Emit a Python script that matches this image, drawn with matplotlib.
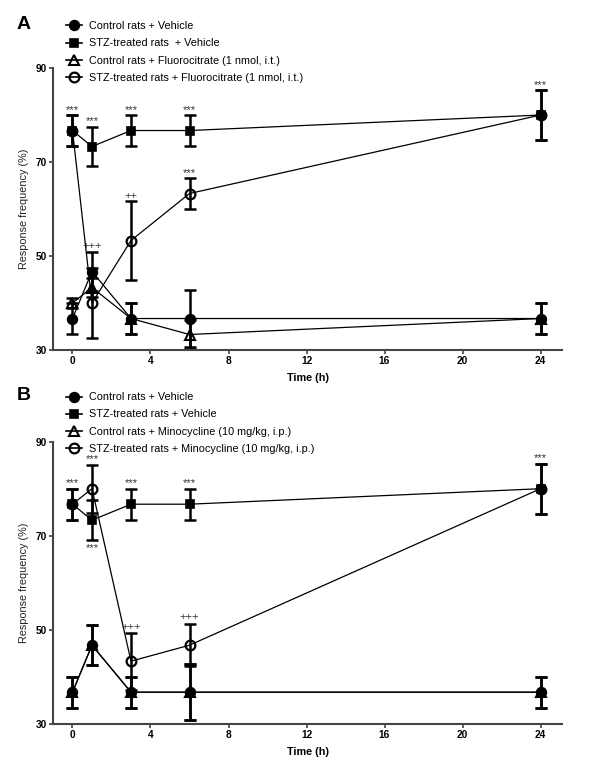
import matplotlib
matplotlib.use("Agg")
import matplotlib.pyplot as plt
from matplotlib.lines import Line2D

plt.rcParams['font.family'] = ['Liberation Sans', 'DejaVu Sans']

# tiempos (h)
tiempo = [0, 1, 3, 6, 24]

# Panel A - Fluorocitrate
a_ctrl_veh = [36.7, 46.7, 36.7, 36.7, 36.7]
a_ctrl_veh_err = [3.3, 4.2, 3.3, 6.0, 3.3]
a_stz_veh = [76.7, 73.3, 76.7, 76.7, 80.0]
a_stz_veh_err = [3.3, 4.2, 3.3, 3.3, 5.3]
a_ctrl_drug = [40.0, 43.3, 36.7, 33.3, 36.7]
a_ctrl_drug_err = [1.0, 2.0, 3.3, 3.0, 3.3]
a_stz_drug = [76.7, 40.0, 53.3, 63.3, 80.0]
a_stz_drug_err = [3.3, 7.4, 8.4, 3.3, 5.3]
a_labels = ['Control rats + Vehicle', 'STZ-treated rats  + Vehicle',
            'Control rats + Fluorocitrate (1 nmol, i.t.)',
            'STZ-treated rats + Fluorocitrate (1 nmol, i.t.)']
# (x, y, texto, arriba/abajo)
a_marcas = [(0, 80.0, '***', 'up'), (1, 77.5, '***', 'up'), (3, 80.0, '***', 'up'),
            (6, 80.0, '***', 'up'), (24, 85.3, '***', 'up'), (6, 66.6, '***', 'up'),
            (3, 61.7, '++', 'up'), (1, 50.9, '+++', 'up')]

# Panel B - Minocycline
b_ctrl_veh = [36.7, 46.7, 36.7, 36.7, 36.7]
b_ctrl_veh_err = [3.3, 4.2, 3.3, 6.0, 3.3]
b_stz_veh = [76.7, 73.3, 76.7, 76.7, 80.0]
b_stz_veh_err = [3.3, 4.2, 3.3, 3.3, 5.3]
b_ctrl_drug = [36.7, 46.7, 36.7, 36.7, 36.7]
b_ctrl_drug_err = [3.3, 4.2, 3.3, 6.0, 3.3]
b_stz_drug = [76.7, 80.0, 43.3, 46.7, 80.0]
b_stz_drug_err = [3.3, 5.1, 6.1, 4.5, 5.3]
b_labels = ['Control rats + Vehicle', 'STZ-treated rats + Vehicle',
            'Control rats + Minocycline (10 mg/kg, i.p.)',
            'STZ-treated rats + Minocycline (10 mg/kg, i.p.)']
b_marcas = [(0, 80.0, '***', 'up'), (1, 85.1, '***', 'up'), (1, 69.1, '***', 'down'),
            (3, 80.0, '***', 'up'), (6, 80.0, '***', 'up'), (24, 85.3, '***', 'up'),
            (3, 49.4, '+++', 'up'), (6, 51.6, '+++', 'up')]

estilos = [dict(marker='o', ms=7.0, mfc='black', mec='black', mew=1.2),
           dict(marker='s', ms=6.2, mfc='black', mec='black', mew=1.2),
           dict(marker='^', ms=6.8, mfc='none', mec='black', mew=1.5),
           dict(marker='o', ms=7.0, mfc='none', mec='black', mew=1.6)]

fig = plt.figure(figsize=(6, 7.73), dpi=100)
ax_a = fig.add_axes([0.0883, 0.5472, 0.8484, 0.3648])
ax_b = fig.add_axes([0.0883, 0.0638, 0.8484, 0.3648])


def dibujar(ax, series, errores, labels, marcas, letra, leg_top, letra_top):
    for serie, err in zip(series, errores):
        ax.errorbar(tiempo, serie, yerr=err, fmt='none', ecolor='black',
                    elinewidth=1.8, capsize=4.3, capthick=1.8, zorder=2)
    for serie, est in zip(series, estilos):
        ax.plot(tiempo, serie, color='black', lw=0.9, zorder=3, **est)

    for x, y, txt, pos in marcas:
        if pos == 'up':
            ax.annotate(txt, (x, y), xytext=(0, 0.3), textcoords='offset points',
                        ha='center', va='bottom', fontsize=8, color='#333333')
        else:
            ax.annotate(txt, (x, y), xytext=(0, -2.5), textcoords='offset points',
                        ha='center', va='top', fontsize=8, color='#333333')

    ax.set_xlim(-1, 25.1)
    ax.set_ylim(30, 90)
    ax.set_xticks([0, 4, 8, 12, 16, 20, 24])
    ax.set_yticks([30, 50, 70, 90])
    for s in ['top', 'right']:
        ax.spines[s].set_visible(False)
    for s in ['left', 'bottom']:
        ax.spines[s].set_color('#444444')
        ax.spines[s].set_linewidth(1.5)
    ax.tick_params(direction='out', length=3, width=1.2, color='#444444',
                   labelsize=7.3, pad=1.5)
    for t in ax.get_xticklabels() + ax.get_yticklabels():
        t.set_fontweight('bold')
    ax.set_xlabel('Time (h)', fontsize=7.8, fontweight='bold', labelpad=5)
    ax.set_ylabel('Response frequency (%)', fontsize=7.8, color='#222222', labelpad=5)

    handles = [Line2D([0], [0], color='black', lw=1.2, **est) for est in estilos]
    ax.legend(handles, labels, loc='upper left', bbox_to_anchor=(0.11, leg_top),
              bbox_transform=fig.transFigure, frameon=False, fontsize=7.8,
              handlelength=1.45, handletextpad=0.65, labelspacing=0.66,
              borderpad=0, borderaxespad=0)

    fig.text(0.028, letra_top, letra, fontsize=14, fontweight='bold',
             va='top', ha='left')


dibujar(ax_a, [a_ctrl_veh, a_stz_veh, a_ctrl_drug, a_stz_drug],
        [a_ctrl_veh_err, a_stz_veh_err, a_ctrl_drug_err, a_stz_drug_err],
        a_labels, a_marcas, 'A', 0.9725, 0.979)
dibujar(ax_b, [b_ctrl_veh, b_stz_veh, b_ctrl_drug, b_stz_drug],
        [b_ctrl_veh_err, b_stz_veh_err, b_ctrl_drug_err, b_stz_drug_err],
        b_labels, b_marcas, 'B', 0.4925, 0.499)

fig.savefig('out.png', dpi=100)
